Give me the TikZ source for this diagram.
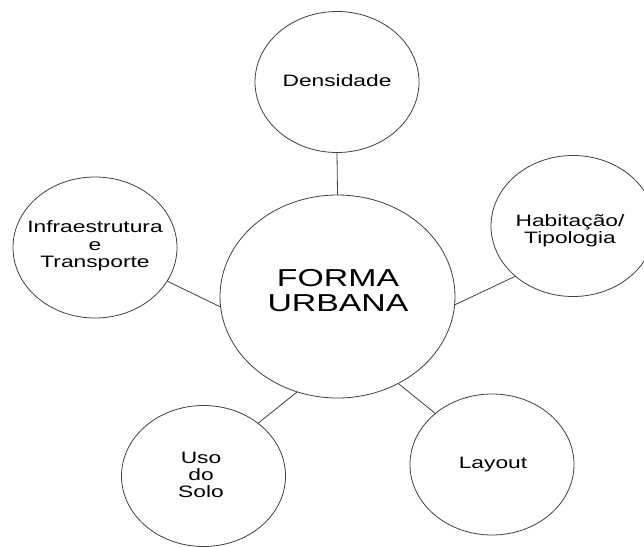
\documentclass[tikz,border=0pt]{standalone}
\usepackage{fontspec}
\setmainfont{Liberation Sans}[FakeStretch=1.38]
\usetikzlibrary{shapes.geometric}
\tikzset{
  bub/.style={ellipse, draw=black!75, line width=0.8pt, fill=white, inner sep=0pt,
    minimum width=164pt, minimum height=141pt},
  hub/.style={ellipse, draw=black!75, line width=0.8pt, fill=white, inner sep=0pt,
    minimum width=235pt, minimum height=203pt},
  txt/.style={align=center, inner sep=0pt, text=black,
    font=\fontsize{16.5pt}{17.3pt}\selectfont},
  bigtxt/.style={align=center, inner sep=0pt, text=black,
    font=\fontsize{24.5pt}{25pt}\selectfont},
  link/.style={draw=black!75, line width=0.8pt}
}
\begin{document}
\begin{tikzpicture}[x=1pt,y=-1pt]
\useasboundingbox (0,0) rectangle (644,546);
\clip (0,0) rectangle (644,546);
\fill[white] (0,0) rectangle (644,546);
\node[hub] (forma) at (337.5,296.5) {};
\node[bub] (dens) at (337,82) {};
\node[bub] (infra) at (95,247.5) {};
\node[bub] (habit) at (573,226) {};
\node[bub] (uso) at (203.5,476) {};
\node[bub] (layout) at (492,464.5) {};
\node[bigtxt] (formaT) at (338,290.5) {FORMA\\URBANA};
\node[txt] (densT) at (337,81) {Densidade};
\node[txt] (infraT) at (95,246) {Infraestrutura\\e\\Transporte};
\node[txt] (habitT) at (570,230.5) {Habitação/\\Tipologia};
\node[txt] (usoT) at (201,475) {Uso\\do\\Solo};
\node[txt] (layoutT) at (493,465) {Layout};
\draw[link] (dens.south) -- (forma.north);
\draw[link] (infra.-25.3) -- (forma.-175.4);
\draw[link] (habit.-139.2) -- (forma.-4.6);
\draw[link] (uso.44.2) -- (forma.-113.8);
\draw[link] (layout.138.9) -- (forma.-55);
\end{tikzpicture}
\end{document}
